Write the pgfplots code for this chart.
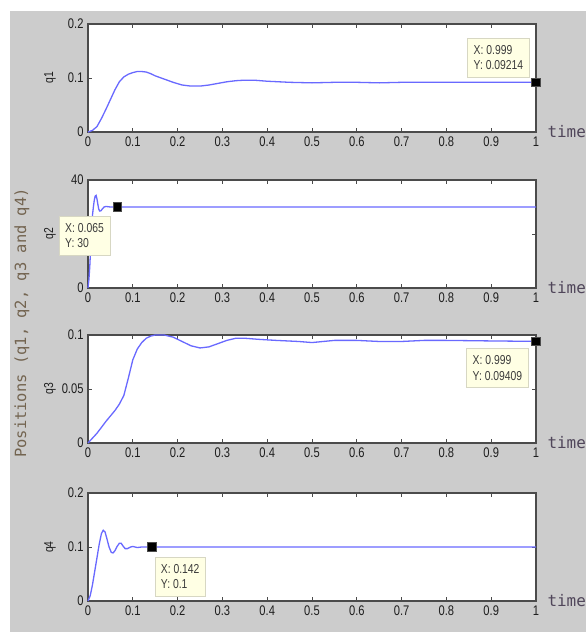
\documentclass[border=0pt]{standalone}
\usepackage{fontspec}
\setmainfont{Liberation Sans}[FakeStretch=0.8]
\newfontfamily\monofont{DejaVu Sans Mono}
\usepackage{pgfplots}
\pgfplotsset{compat=1.18}
\definecolor{figgray}{RGB}{204,204,204}
\definecolor{axcol}{RGB}{75,75,75}
\definecolor{txtcol}{RGB}{30,30,30}
\definecolor{qblue}{RGB}{105,105,255}
\definecolor{tipfill}{RGB}{255,255,228}
\definecolor{tipdraw}{RGB}{215,215,195}
\definecolor{tiptext}{RGB}{60,60,60}
\definecolor{poscol}{RGB}{115,100,80}
\definecolor{timecol}{RGB}{80,70,90}
\pgfplotsset{
 qax/.style={
  scale only axis, width=448bp, height=108bp,
  anchor=south west,
  xmin=0, xmax=1,
  xtick={0,0.1,0.2,0.3,0.4,0.5,0.6,0.7,0.8,0.9,1},
  xticklabels={0,0.1,0.2,0.3,0.4,0.5,0.6,0.7,0.8,0.9,1},
  axis line style={axcol, line width=1.1bp},
  every tick/.style={axcol, line width=0.8bp},
  tick align=inside, major tick length=4bp,
  /pgf/number format/assume math mode=true,
  tick label style={font=\fontsize{14}{16}\selectfont, text=txtcol},
  xticklabel style={yshift=-1bp},
  yticklabel style={xshift=-1bp},
  axis background/.style={fill=white},
  ylabel style={at={(axis description cs:-0.085,0.5)}, anchor=center, font=\fontsize{13}{15}\selectfont, text=txtcol},
  xlabel={time},
  xlabel style={at={(axis description cs:1,0)}, anchor=west, xshift=8bp, font=\monofont\fontsize{16}{17}\selectfont, text=timecol},
  clip=false,
 },
 qline/.style={qblue, line width=1.3bp, no marks},
 tipmark/.style={only marks, mark=square*, mark size=4.3bp, mark options={fill=black, draw=black!70, line width=0.6bp}},
}
\tikzset{tip/.style={draw=tipdraw, fill=tipfill, text=tiptext, font=\fontsize{13}{15.5}\selectfont, align=left, inner xsep=6bp, inner ysep=7bp, line width=0.6bp}}
\begin{document}
\begin{tikzpicture}
\fill[white] (0bp,0bp) rectangle (586bp,632bp);
\fill[figgray] (10bp,0bp) rectangle (586bp,621bp);
% ---------- q1
\begin{axis}[qax, at={(88bp,500bp)}, ymin=0, ymax=0.2, ytick={0,0.1,0.2}, yticklabels={0,0.1,0.2}, ylabel={q1}]
\addplot[qline] coordinates {(0,0) (0.01,0.003) (0.02,0.01) (0.03,0.025) (0.04,0.042) (0.05,0.06) (0.06,0.078) (0.07,0.093) (0.08,0.102) (0.09,0.107) (0.1,0.110) (0.11,0.112) (0.12,0.112) (0.13,0.111) (0.14,0.108) (0.15,0.104) (0.17,0.098) (0.19,0.092) (0.21,0.087) (0.23,0.085) (0.25,0.085) (0.27,0.087) (0.29,0.090) (0.31,0.093) (0.33,0.095) (0.35,0.096) (0.37,0.096) (0.40,0.094) (0.45,0.092) (0.50,0.091) (0.55,0.092) (0.60,0.092) (0.65,0.091) (0.70,0.092) (0.80,0.092) (0.90,0.092) (0.999,0.09214)};
\addplot[tipmark] coordinates {(0.999,0.09214)};
\coordinate (t1) at (axis cs:0.999,0.09214);
\end{axis}
% ---------- q2
\begin{axis}[qax, at={(88bp,344bp)}, ymin=0, ymax=40, ytick={0,20,40}, yticklabels={0,20,40}, ylabel={q2}]
\addplot[qline] coordinates {(0,0) (0.002,3) (0.004,8) (0.006,15) (0.008,22) (0.010,27) (0.012,30) (0.014,32.5) (0.016,34) (0.018,34.3) (0.020,33) (0.022,31) (0.024,29.2) (0.026,28.5) (0.029,28.6) (0.032,29.3) (0.036,30) (0.040,30.2) (0.050,30) (0.065,30) (1,30)};
\addplot[tipmark] coordinates {(0.065,30)};
\coordinate (t2) at (axis cs:0.065,30);
\end{axis}
% ---------- q3
\begin{axis}[qax, at={(88bp,189bp)}, ymin=0, ymax=0.1, ytick={0,0.05,0.1}, yticklabels={0,0.05,0.1}, ylabel={q3}]
\addplot[qline] coordinates {(0,0) (0.02,0.009) (0.04,0.020) (0.06,0.030) (0.07,0.036) (0.08,0.044) (0.09,0.060) (0.10,0.077) (0.11,0.087) (0.12,0.093) (0.13,0.097) (0.14,0.099) (0.15,0.100) (0.17,0.100) (0.19,0.098) (0.21,0.094) (0.23,0.090) (0.25,0.088) (0.27,0.089) (0.29,0.092) (0.31,0.095) (0.33,0.097) (0.35,0.097) (0.38,0.096) (0.42,0.095) (0.47,0.094) (0.50,0.093) (0.55,0.095) (0.60,0.095) (0.65,0.094) (0.70,0.094) (0.75,0.095) (0.80,0.095) (0.90,0.0945) (0.999,0.09409)};
\addplot[tipmark] coordinates {(0.999,0.09409)};
\coordinate (t3) at (axis cs:0.999,0.09409);
\end{axis}
% ---------- q4
\begin{axis}[qax, at={(88bp,31bp)}, ymin=0, ymax=0.2, ytick={0,0.1,0.2}, yticklabels={0,0.1,0.2}, ylabel={q4}]
\addplot[qline] coordinates {(0,0) (0.005,0.010) (0.010,0.030) (0.015,0.055) (0.020,0.080) (0.025,0.105) (0.030,0.125) (0.034,0.131) (0.038,0.128) (0.042,0.116) (0.047,0.100) (0.052,0.090) (0.056,0.089) (0.060,0.093) (0.065,0.101) (0.070,0.107) (0.074,0.107) (0.078,0.102) (0.083,0.097) (0.088,0.097) (0.095,0.100) (0.100,0.101) (0.110,0.099) (0.120,0.100) (0.142,0.100) (1,0.100)};
\addplot[tipmark] coordinates {(0.142,0.1)};
\coordinate (t4) at (axis cs:0.142,0.1);
\end{axis}
% ---------- data tips
\node[tip, anchor=south east, xshift=-6bp, yshift=5bp] at (t1) {X: 0.999\\Y: 0.09214};
\node[tip, anchor=north east, xshift=-7bp, yshift=-9bp] at (t2) {X: 0.065\\Y: 30};
\node[tip, anchor=north east, xshift=-7bp, yshift=-7bp] at (t3) {X: 0.999\\Y: 0.09409};
\node[tip, anchor=north west, xshift=3bp, yshift=-10bp] at (t4) {X: 0.142\\Y: 0.1};
% ---------- common label
\node[rotate=90, font=\monofont\fontsize{15.5}{17}\selectfont, text=poscol] at (22bp,309bp) {Positions (q1, q2, q3 and q4)};
\pgfresetboundingbox
\useasboundingbox (0bp,0bp) rectangle (586bp,632bp);
\end{tikzpicture}
\end{document}
